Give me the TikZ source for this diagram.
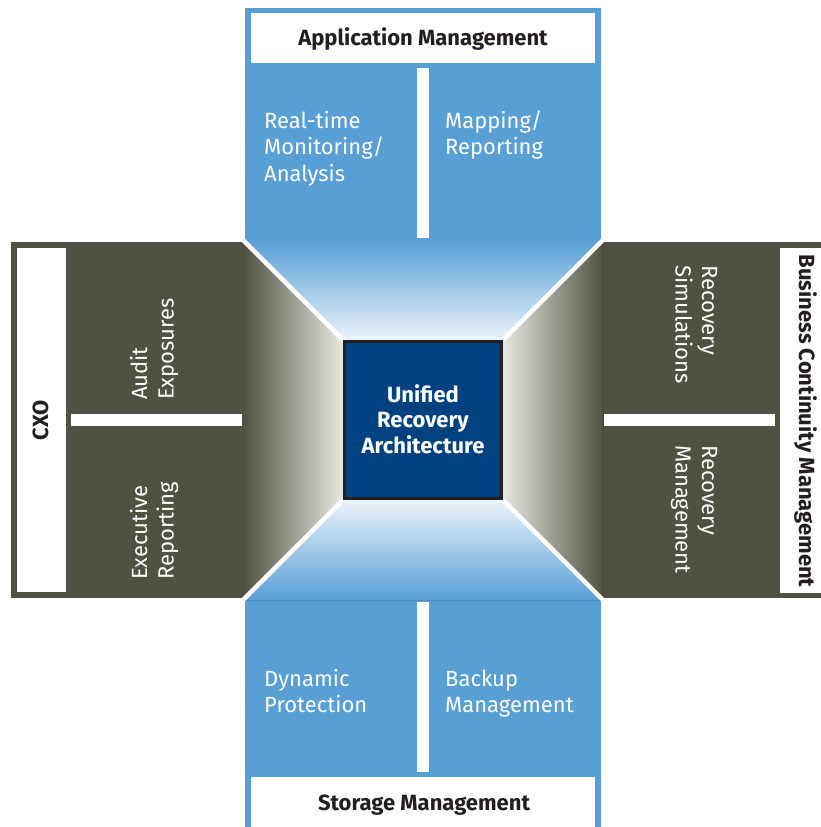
\documentclass[tikz,border=0pt]{standalone}
\usepackage{fontspec}
\setmainfont{Fira Sans}
\definecolor{panelblue}{RGB}{88,159,214}
\definecolor{paneldark}{RGB}{80,81,66}
\definecolor{coreblue}{RGB}{0,66,127}
\definecolor{coreedge}{RGB}{35,31,32}
\definecolor{lightgray}{RGB}{232,232,226}
\definecolor{lightblue}{RGB}{236,243,250}
\definecolor{titleink}{RGB}{35,31,32}
\tikzset{
  body/.style={inner sep=0pt, text=white, font=\fontsize{22}{26.5}\selectfont, align=left},
  title/.style={inner sep=0pt, text=titleink, font=\bfseries\fontsize{22}{26}\selectfont},
  core/.style={inner sep=0pt, text=white, font=\bfseries\fontsize{22}{25.5}\selectfont, align=center},
  divider/.style={fill=white},
  seam/.style={draw=white, line width=4.5pt},
}
\begin{document}
\begin{tikzpicture}[x=1pt,y=-1pt]
\useasboundingbox (0,0) rectangle (821,827);
\clip (0,0) rectangle (821,827);
\fill[white] (0,0) rectangle (821,827);
% top panel
\fill[panelblue] (245,8) rectangle (601,241);
\fill[white] (251,13) rectangle (595,63);
% bottom panel
\fill[panelblue] (245,599) rectangle (601,840);
\fill[white] (251,777) rectangle (595,835);
% left panel
\fill[paneldark] (11,242) rectangle (244,598);
\fill[white] (17,248) rectangle (66,592);
% right panel
\fill[paneldark] (602,242) rectangle (840,598);
\fill[white] (780,248) rectangle (835,593);
% gradient trapezoids
\fill[top color=panelblue, bottom color=lightblue] (245,240) -- (601,240) -- (503,340) -- (343,340) -- cycle;
\fill[top color=lightblue, bottom color=panelblue] (343,500) -- (503,500) -- (601,600) -- (245,600) -- cycle;
\fill[left color=paneldark, right color=lightgray] (243,240) -- (343,340) -- (343,500) -- (243,600) -- cycle;
\fill[left color=lightgray, right color=paneldark] (503,340) -- (603,240) -- (603,600) -- (503,500) -- cycle;
% seams
\draw[seam] (243,240) -- (343,340);
\draw[seam] (603,240) -- (503,340);
\draw[seam] (243,600) -- (343,500);
\draw[seam] (603,600) -- (503,500);
% dividers
\fill[divider] (417,68) rectangle (429,238);
\fill[divider] (417,602) rectangle (429,772);
\fill[divider] (71,414) rectangle (242,426);
\fill[divider] (604,414) rectangle (775,426);
% core
\node[draw=coreedge, line width=3pt, fill=coreblue, minimum size=157pt, inner sep=0pt] (coresq) at (423,420) {};
\node[core, anchor=base] (ura) at (423,453) {Unified\\Recovery\\Architecture};
% titles
\node[title, anchor=base] (app) at (423,45) {Application Management};
\node[title, anchor=base] (sto) at (424,810) {Storage Management};
\node[title, anchor=base, rotate=90] (cxo) at (48,420) {CXO};
\node[title, anchor=base, rotate=-90] (bcm) at (799,421) {Business Continuity Management};
% body texts
\node[body, anchor=base west] (rtm) at (264,181) {Real-time\\Monitoring/\\Analysis};
\node[body, anchor=base west] (map) at (445,154.5) {Mapping/\\Reporting};
\node[body, anchor=base west] (dyn) at (264,712.5) {Dynamic\\Protection};
\node[body, anchor=base west] (bak) at (445,712.5) {Backup\\Management};
\node[body, anchor=base west, rotate=90] (aud) at (173.5,400) {Audit\\Exposures};
\node[body, anchor=base west, rotate=90] (exe) at (173.5,580) {Executive\\Reporting};
\node[body, anchor=base west, rotate=-90] (rsim) at (675.5,265) {Recovery\\Simulations};
\node[body, anchor=base west, rotate=-90] (rman) at (675.5,445) {Recovery\\Management};
\end{tikzpicture}
\end{document}
